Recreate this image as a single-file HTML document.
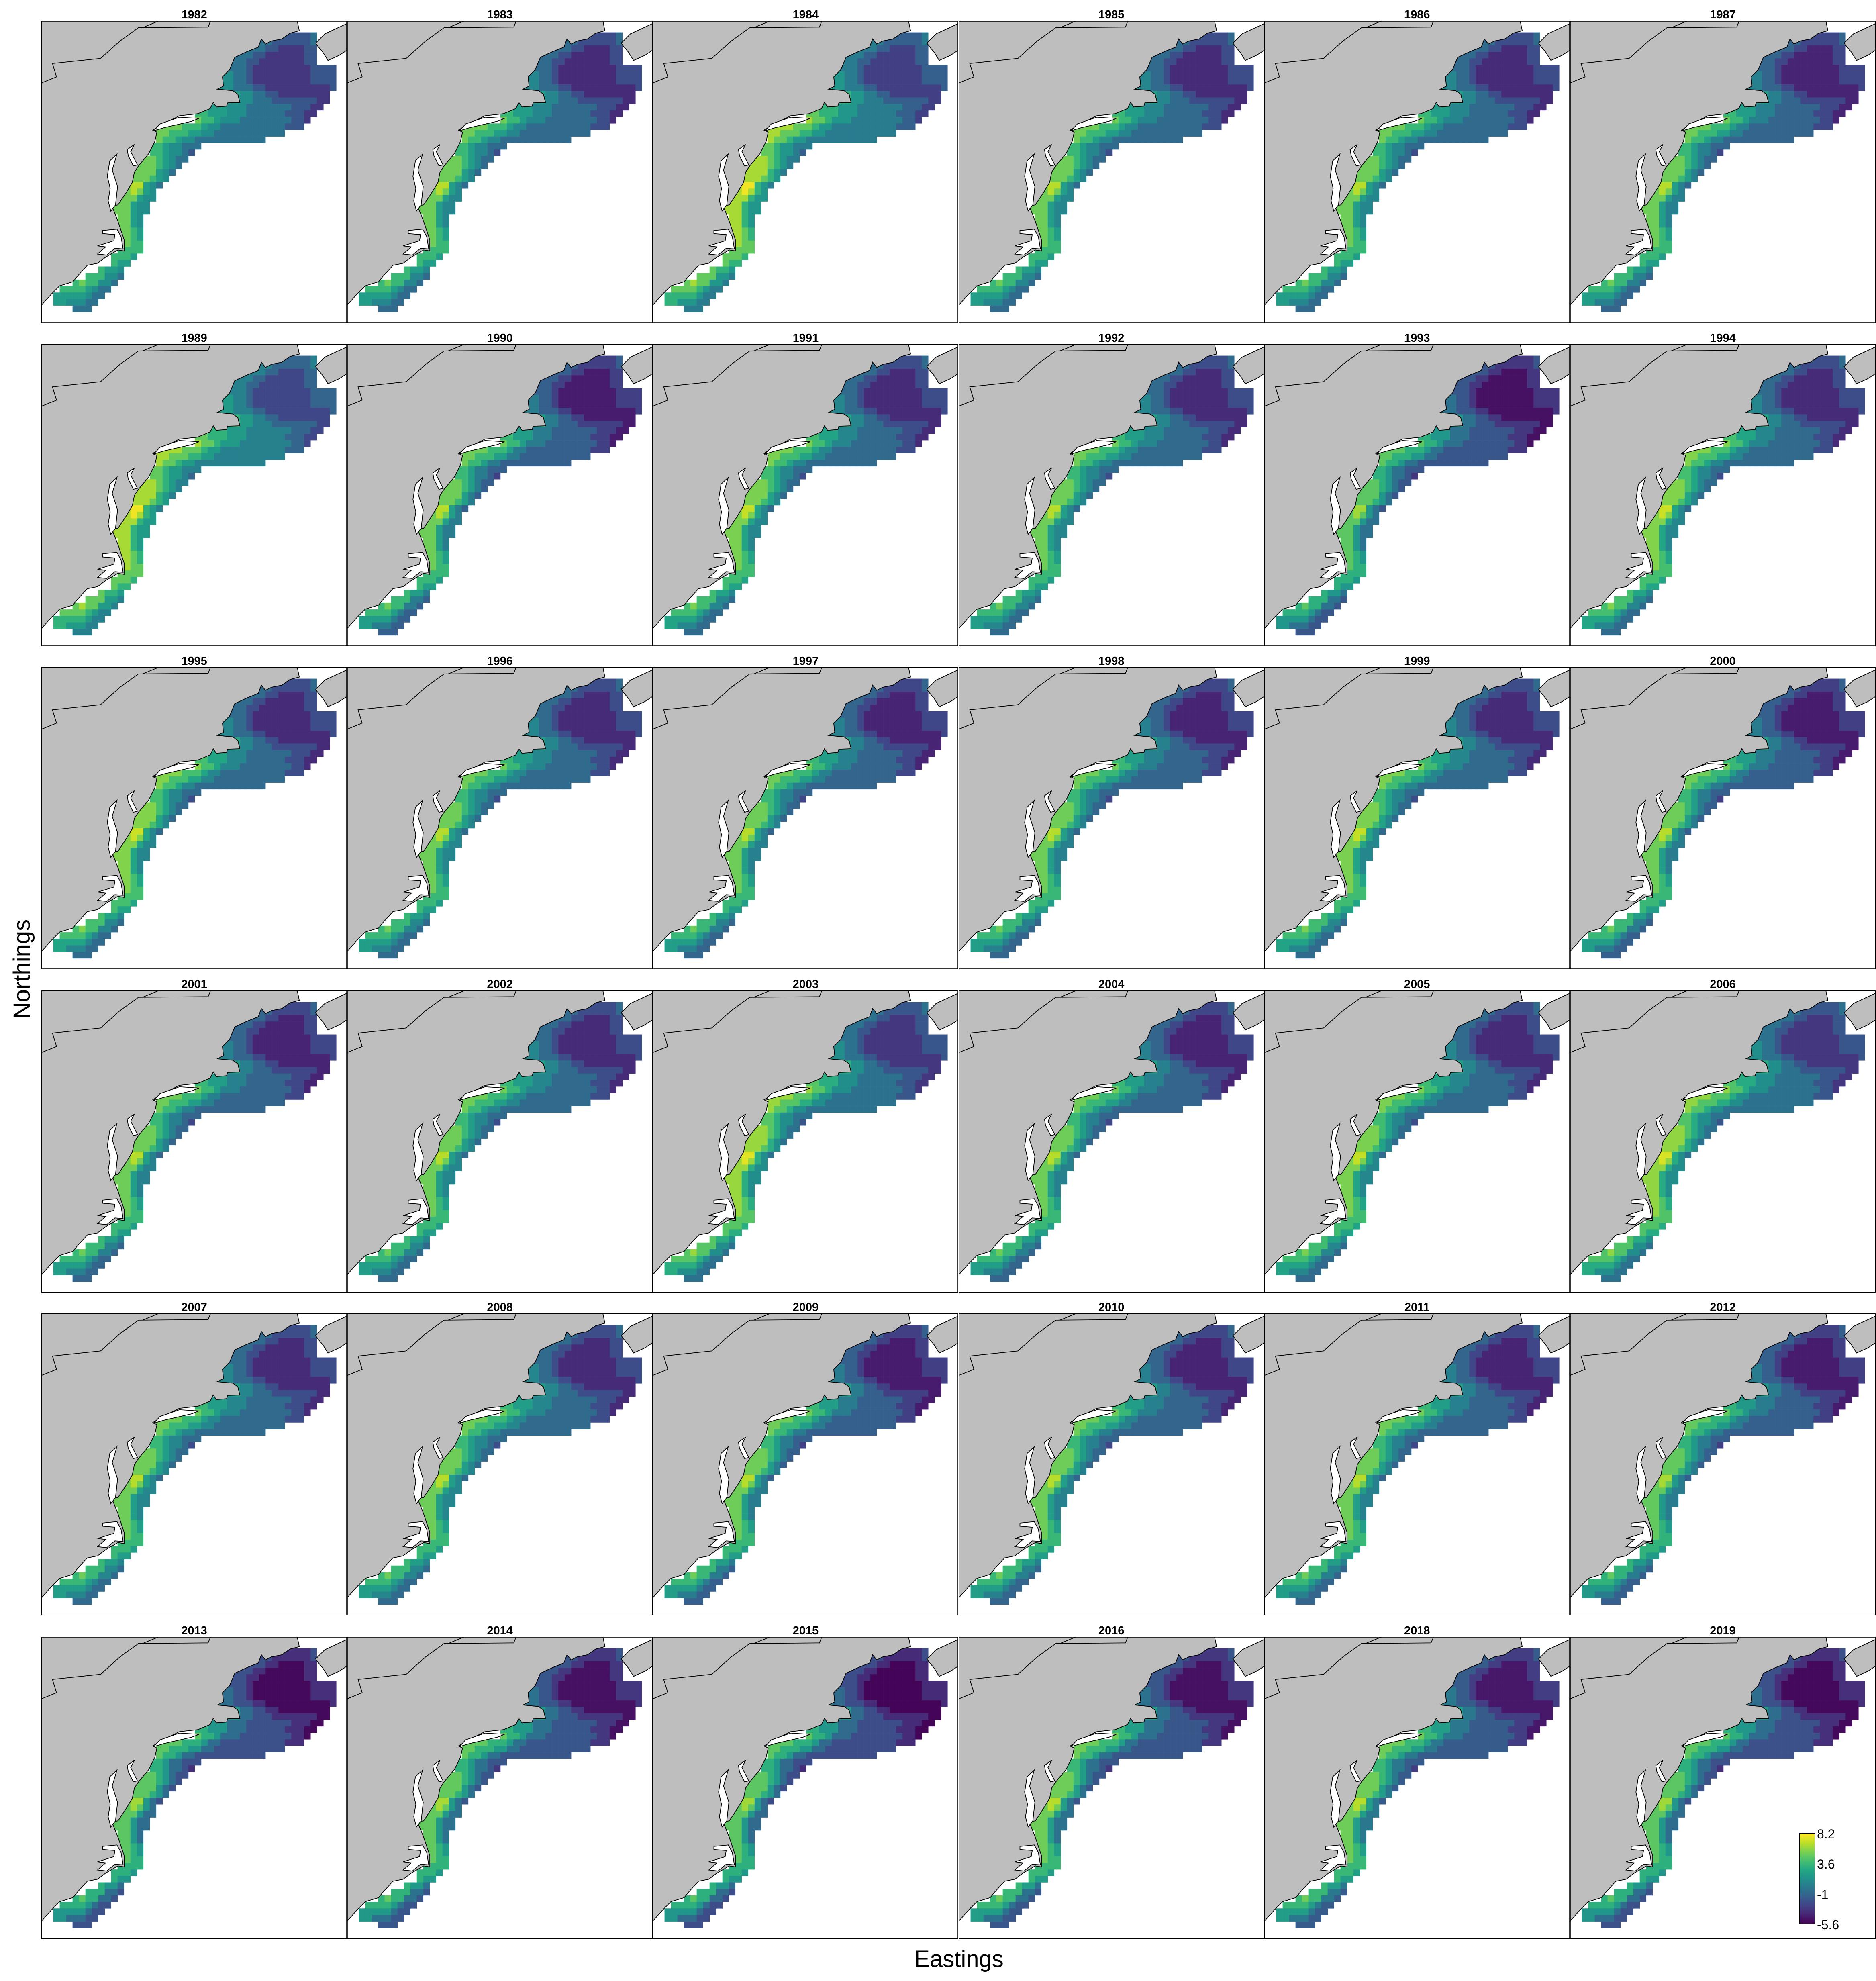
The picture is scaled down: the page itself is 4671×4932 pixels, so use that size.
<!DOCTYPE html>
<html><head><meta charset="utf-8"><style>
html,body{margin:0;padding:0;background:#fff;}
#wrap{position:relative;width:4671px;height:4932px;overflow:hidden;font-family:"Liberation Sans",sans-serif;}
.title{position:absolute;width:761px;text-align:center;font-weight:bold;font-size:29px;line-height:29px;}
svg.panel{position:absolute;}
</style></head><body>
<div id="wrap">
<div style="position:absolute;left:-95px;top:2384px;width:300px;height:58px;transform:rotate(-90deg);font-size:58px;line-height:58px;text-align:center;">Northings</div>
<div style="position:absolute;left:2180px;top:4845px;width:415px;font-size:58px;line-height:66px;text-align:center;">Eastings</div>
<div id="legend" style="position:absolute;left:4480px;top:4564px;">
<div style="position:absolute;left:0;top:0;width:36px;height:223px;border:2px solid #000;background:linear-gradient(to top,#440154,#482475,#414487,#355f8d,#2a788e,#21918c,#22a884,#44bf70,#7ad151,#bddf26,#fde725);"></div>
<div style="position:absolute;left:44px;top:-16px;font-size:32px;">8.2</div>
<div style="position:absolute;left:44px;top:59px;font-size:32px;">3.6</div>
<div style="position:absolute;left:44px;top:135px;font-size:32px;">-1</div>
<div style="position:absolute;left:44px;top:210px;font-size:32px;">-5.6</div>
</div>
</div>
<script>
const years = [1982,1983,1984,1985,1986,1987,1989,1990,1991,1992,1993,1994,1995,1996,1997,1998,1999,2000,2001,2002,2003,2004,2005,2006,2007,2008,2009,2010,2011,2012,2013,2014,2015,2016,2018,2019];
const offNorth = [0.4,0.1,0.7,0.1,0.1,-0.1,0.9,-0.3,0.1,0.1,-0.6,0.1,0.1,0.1,-0.1,-0.1,0.1,-0.3,-0.1,0.1,0.4,-0.1,0.1,0.4,0.1,0.1,-0.3,-0.1,-0.1,-0.3,-0.8,-0.6,-0.9,-0.6,-0.4,-0.8];
const offShelf = [0,0,0.8,0,0,0,0.8,0,0.2,0,-0.3,0.3,0.3,0,0,0,0.2,0,0,0,0.6,0,0.2,0.5,0,0,0,0,0,-0.2,-0.3,-0.2,-0.3,0,0,-0.3];
const rowStart = [32,31,30,27,26,26,26,25,25,27,27,24,22,22,16,16,16,15,15,13,12,12,12,11,11,10,9,9,10,10,10,10,11,10,9,9,7,5,3,1,0,0,3];
const baseRows = ["333322223","3332222223","33322111122","33332211111122","333322111111122","333321111111112222","443321111111112222","4443321111111112222","5443332211111111112","5544332211111111","5544333222222211","555444333333322211","6655544433333322211","766544433333333221","77776665443333333333222","77666554433333333333","76654433333333333","66544333","6654432","77765433","77776543","7777543","777654","788543","78754","777544","777544","777544","7754","7754","7765","7765","766","6666","6665","655","6554","666443","6766443","66665433","55555433","5544433","333"];
const colorStops = ["#440154","#482475","#414487","#355f8d","#2a788e","#21918c","#22a884","#44bf70","#7ad151","#bddf26","#fde725"];
function hex(c){return [parseInt(c.substr(1,2),16),parseInt(c.substr(3,2),16),parseInt(c.substr(5,2),16)];}
function viridis(t){t=Math.max(0,Math.min(1,t));const p=t*10,i=Math.min(9,Math.floor(p)),f=p-i;const a=hex(colorStops[i]),b=hex(colorStops[i+1]);return 'rgb('+a.map((v,k)=>Math.round(v+(b[k]-v)*f)).join(',')+')';}
const NS='http://www.w3.org/2000/svg';
const X0=84,CW=31.4,Y0=118,CH=31.74;
function xs(c){return X0+CW*c;}
function ys(r){return Y0+CH*r;}
const landD="M26,62 L1275,62 L1285,110 L1240,122 L1200,150 L1150,160 L1120,175 L1100,150 L1085,190 L1030,212 L970,240 L945,300 L910,335 L915,380 L885,395 L935,400 L960,402 L985,420 L995,460 L935,462 L930,478 L880,482 L865,460 L850,490 L790,515 L700,525 L610,570 L570,595 L590,605 L580,650 L550,710 L500,770 L480,800 L470,850 L440,900 L400,960 L370,965 L400,1040 L430,1130 L430,1185 L400,1180 L340,1215 L300,1245 L250,1255 L200,1310 L180,1335 L115,1355 L75,1395 L26,1450 Z";
const inlets=["M445,690 L480,665 L462,700 L495,765 L475,770 L450,720 Z","M365,990 L352,940 L362,880 L348,820 L360,745 L395,712 L372,790 L398,870 L388,960 Z","M325,1085 L395,1078 L415,1115 L425,1175 L385,1172 L345,1205 L300,1200 L340,1165 L300,1160 L380,1135 L385,1105 L325,1100 Z","M575,598 L605,565 L700,532 L795,538 L760,552 L625,583 Z"];
const novaD="M1365,170 L1410,125 L1518,75 L1518,205 L1480,230 L1425,255 L1400,215 L1375,185 Z";
const wrap=document.getElementById('wrap');
years.forEach((yr,i)=>{
  const col=i%6,row=Math.floor(i/6);
  const px=103+761.2*col,py=52+804.5*row;
  const t=document.createElement('div');
  
  
  t.className='title';t.textContent=yr;
  t.style.left=px+'px';t.style.top=(py-29)+'px';
  wrap.appendChild(t);
  const s=document.createElementNS(NS,'svg');
  
  
  s.setAttribute('class','panel');
  s.setAttribute('width','761');s.setAttribute('height','752');
  s.setAttribute('viewBox','26 62 1492 1474');
  s.setAttribute('preserveAspectRatio','none');
  s.style.left=px+'px';s.style.top=py+'px';
  let h='<rect x="26" y="62" width="1492" height="1474" fill="#fff"/>';
  baseRows.forEach((str,r)=>{
    for(let k=0;k<str.length;k++){
      const d=+str[k];
      const v=d+(d<=4?offNorth[i]:offShelf[i]);
      h+='<rect x="'+xs(rowStart[r]+k).toFixed(1)+'" y="'+ys(r).toFixed(1)+'" width="32" height="32.3" fill="'+viridis(v/9)+'"/>';
    }
  });
  h+='<path d="'+landD+'" fill="#bebebe" stroke="#000" stroke-width="3.5"/>';
  inlets.forEach(d=>{h+='<path d="'+d+'" fill="#fff" stroke="#000" stroke-width="3.5"/>';});
  h+='<path d="'+novaD+'" fill="#bebebe" stroke="#000" stroke-width="3.5"/>';
  h+='<polyline points="26,365 100,335 80,270 315,245 410,160 500,95 840,92 852,62" fill="none" stroke="#000" stroke-width="3.5"/>';
  h+='<polyline points="520,95 600,62" fill="none" stroke="#000" stroke-width="3.5"/>';
  h+='<rect x="27.5" y="63.5" width="1489" height="1471" fill="none" stroke="#000" stroke-width="4"/>';
  s.innerHTML=h;
  wrap.appendChild(s);
});
wrap.appendChild(document.getElementById('legend'));
</script>
</body></html>
